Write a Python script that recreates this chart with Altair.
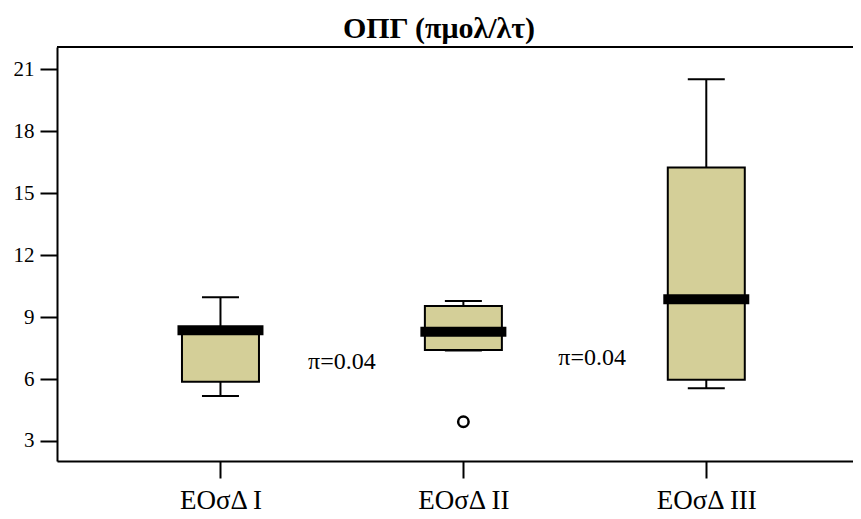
import json
import altair as alt
import pandas as pd

# ---- data ----
categories = ["ΕΟσΔ I", "ΕΟσΔ II", "ΕΟσΔ III"]
positions = [1, 2, 3]
whisker_low = [5.18, 7.38, 5.55]
q1 = [5.87, 7.41, 5.97]
median = [8.36, 8.29, 9.86]
q3 = [8.45, 9.54, 16.25]
whisker_high = [9.96, 9.78, 20.52]

outlier_pos = [2]
outlier_val = [3.93]

annot_pos = [1.50, 2.53]
annot_val = [6.82, 7.0]
annot_text = ["π=0.04", "π=0.04"]

y_ticks = [3, 6, 9, 12, 15, 18, 21]
title_text = "ΟΠΓ (πμολ/λτ)"

FONT = "Liberation Serif"
W, H = 796, 414
BOX_FILL = "#D4CF98"

df = pd.DataFrame({
    "cat": categories, "pos": positions, "low": whisker_low, "q1": q1,
    "med": median, "q3": q3, "high": whisker_high,
})
out_df = pd.DataFrame({"pos": outlier_pos, "val": outlier_val})
ann_df = pd.DataFrame({"pos": annot_pos, "val": annot_val, "txt": annot_text})

label_expr = "%s[datum.value - 1]" % json.dumps(categories, ensure_ascii=False)

xscale = alt.Scale(domain=[0.3476, 3.5834], nice=False, zero=False)
yscale = alt.Scale(domain=[2.03, 22.08], nice=False, zero=False)

xaxis = alt.Axis(values=positions, labelExpr=label_expr, title=None, grid=False,
                 domainColor="black", domainWidth=2, tickColor="black", tickWidth=2,
                 tickSize=17, labelFont=FONT, labelFontSize=27, labelColor="black",
                 labelPadding=9)
yaxis = alt.Axis(values=y_ticks, title=None, grid=False,
                 domainColor="black", domainWidth=2, tickColor="black", tickWidth=2,
                 tickSize=17, labelFont=FONT, labelFontSize=21, labelColor="black",
                 labelPadding=6)

base = alt.Chart(df)

whiskers = base.mark_rule(color="black", strokeWidth=2).encode(
    x=alt.X("pos:Q", scale=xscale, axis=xaxis),
    y=alt.Y("low:Q", scale=yscale, axis=yaxis),
    y2="high:Q",
)
caps_low = base.mark_tick(orient="horizontal", size=37, thickness=2, color="black", opacity=1).encode(
    x=alt.X("pos:Q", scale=xscale), y=alt.Y("low:Q", scale=yscale))
caps_high = base.mark_tick(orient="horizontal", size=37, thickness=2, color="black", opacity=1).encode(
    x=alt.X("pos:Q", scale=xscale), y=alt.Y("high:Q", scale=yscale))
boxes = base.mark_bar(size=77, fill=BOX_FILL, stroke="black", strokeWidth=2, opacity=1).encode(
    x=alt.X("pos:Q", scale=xscale), y=alt.Y("q1:Q", scale=yscale), y2="q3:Q")
medians = base.mark_tick(orient="horizontal", size=86, thickness=10, color="black", opacity=1).encode(
    x=alt.X("pos:Q", scale=xscale), y=alt.Y("med:Q", scale=yscale))
outliers = alt.Chart(out_df).mark_point(shape="circle", filled=False, size=110,
                                         stroke="black", strokeWidth=2.5, opacity=1).encode(
    x=alt.X("pos:Q", scale=xscale), y=alt.Y("val:Q", scale=yscale))
annots = alt.Chart(ann_df).mark_text(font=FONT, fontSize=24, color="black").encode(
    x=alt.X("pos:Q", scale=xscale), y=alt.Y("val:Q", scale=yscale), text="txt:N")
top_line = alt.Chart(df).mark_rule(color="black", strokeWidth=2).encode(
    x=alt.value(0), x2=alt.value(W + 10), y=alt.value(0))

chart = alt.layer(top_line, whiskers, caps_low, caps_high, boxes, medians, outliers, annots).properties(
    width=W, height=H,
    title=alt.TitleParams(title_text, font=FONT, fontSize=30, fontWeight="bold", color="black",
                          anchor="middle", dx=-16, offset=2),
    autosize=alt.AutoSizeParams(type="none"),
    padding={"left": 49, "top": 39, "right": 0, "bottom": 58},
).configure_view(stroke=None).configure(background="white")

chart.save("out.html", embed_options={"renderer": "svg", "actions": False})
